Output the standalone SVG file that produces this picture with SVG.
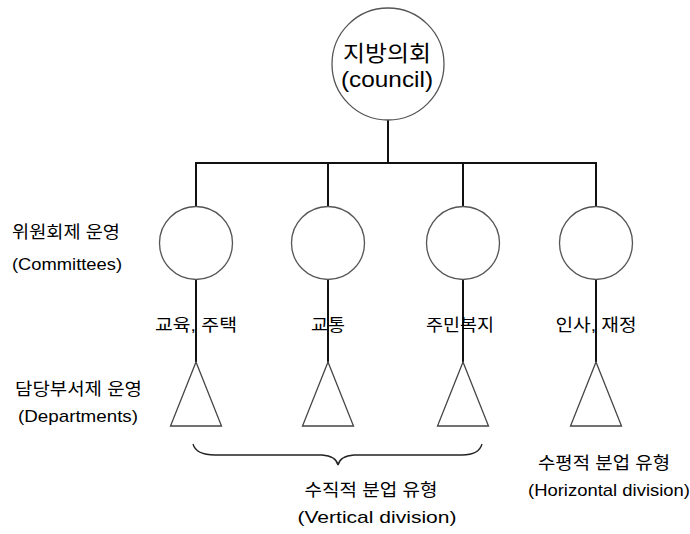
<svg xmlns="http://www.w3.org/2000/svg" width="690" height="534" viewBox="0 0 690 534">
<style>
text{font-family:"Liberation Sans","Noto Sans CJK KR",Arial,sans-serif;fill:#000;}
.k{font-size:17px;}
.t{font-size:22px;}
.c{text-anchor:middle;}
.circ{fill:#fff;stroke:#555;stroke-width:1.3;}
.tri{fill:#fff;stroke:#444;stroke-width:1.3;stroke-linejoin:miter;}
.ln{stroke:#111;stroke-width:2;fill:none;}
.br{stroke:#222;stroke-width:1.3;fill:none;}
</style>
<rect width="690" height="534" fill="#fff"/>
<g id="connectors">
<line class="ln" x1="388" y1="120" x2="388" y2="163"/>
<line class="ln" x1="195" y1="163" x2="597" y2="163"/>
<line class="ln" x1="196" y1="163" x2="196" y2="207"/>
<line class="ln" x1="328" y1="163" x2="328" y2="207"/>
<line class="ln" x1="463" y1="163" x2="463" y2="207"/>
<line class="ln" x1="596" y1="163" x2="596" y2="207"/>
<line class="ln" x1="196" y1="279" x2="196" y2="362"/>
<line class="ln" x1="328" y1="279" x2="328" y2="362"/>
<line class="ln" x1="463" y1="279" x2="463" y2="362"/>
<line class="ln" x1="596" y1="279" x2="596" y2="362"/>
</g>
<g id="council">
<circle class="circ" cx="388" cy="64" r="56"/>
<text class="t c" x="387" y="61" textLength="88" lengthAdjust="spacingAndGlyphs">지방의회</text>
<text class="t c" x="387" y="87" textLength="92" lengthAdjust="spacingAndGlyphs">(council)</text>
</g>
<g id="committee1"><circle class="circ" cx="196" cy="243" r="36.5"/></g>
<g id="committee2"><circle class="circ" cx="328" cy="243" r="36.5"/></g>
<g id="committee3"><circle class="circ" cx="463" cy="243" r="36.5"/></g>
<g id="committee4"><circle class="circ" cx="596" cy="243" r="36.5"/></g>
<g id="dept1"><polygon class="tri" points="196,362 170.5,426 221.5,426"/></g>
<g id="dept2"><polygon class="tri" points="328,362 302.5,426 353.5,426"/></g>
<g id="dept3"><polygon class="tri" points="463,362 437.5,426 488.5,426"/></g>
<g id="dept4"><polygon class="tri" points="596,362 570.5,426 621.5,426"/></g>
<g id="labels">
<text class="k c" x="196" y="331" textLength="82" lengthAdjust="spacingAndGlyphs">교육, 주택</text>
<text class="k c" x="328" y="331" textLength="34" lengthAdjust="spacingAndGlyphs">교통</text>
<text class="k c" x="460" y="331" textLength="68" lengthAdjust="spacingAndGlyphs">주민복지</text>
<text class="k c" x="596" y="331" textLength="81" lengthAdjust="spacingAndGlyphs">인사, 재정</text>
<text class="k" x="12" y="238" textLength="108" lengthAdjust="spacingAndGlyphs">위원회제 운영</text>
<text class="k" x="12" y="270" textLength="110" lengthAdjust="spacingAndGlyphs">(Committees)</text>
<text class="k" x="15" y="395" textLength="127" lengthAdjust="spacingAndGlyphs">담당부서제 운영</text>
<text class="k" x="18" y="422" textLength="120" lengthAdjust="spacingAndGlyphs">(Departments)</text>
</g>
<g id="vertical">
<path class="br" d="M193,444 Q196,455 215,455 L322,455 Q336,456 338,465 Q340,456 354,455 L462,455 Q479,455 482,444"/>
<text class="k c" x="371" y="496" textLength="133" lengthAdjust="spacingAndGlyphs">수직적 분업 유형</text>
<text class="k c" x="377" y="523" textLength="159" lengthAdjust="spacingAndGlyphs">(Vertical division)</text>
</g>
<g id="horizontal">
<text class="k c" x="604" y="469" textLength="132" lengthAdjust="spacingAndGlyphs">수평적 분업 유형</text>
<text class="k c" x="609" y="496" textLength="162" lengthAdjust="spacingAndGlyphs">(Horizontal division)</text>
</g>
</svg>
